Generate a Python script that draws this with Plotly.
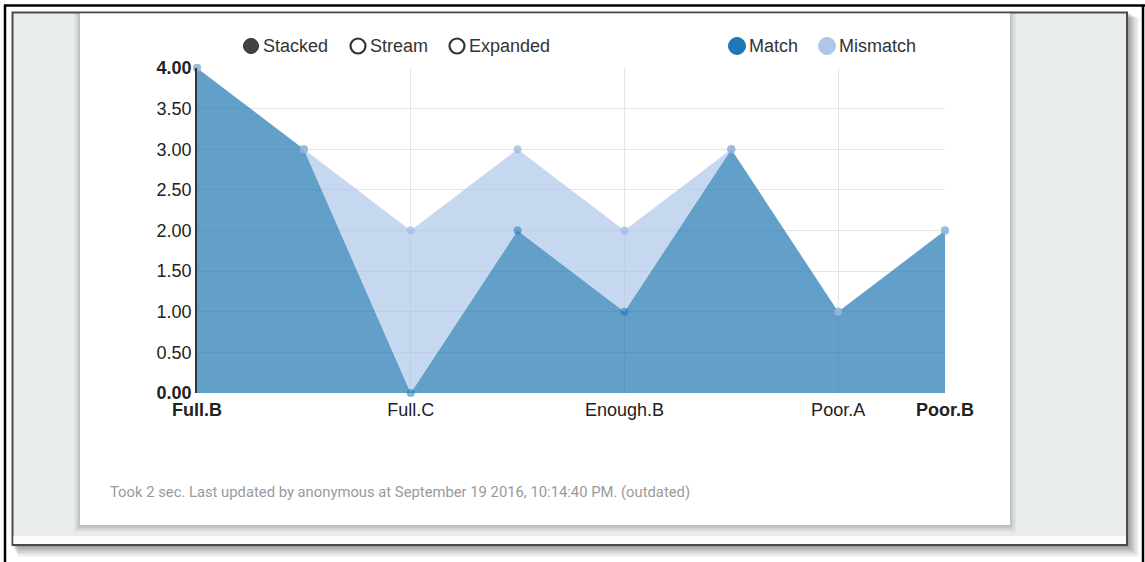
import plotly.graph_objects as go

# ---- data ----
positions = [0, 1, 2, 3, 4, 5, 6, 7]
tick_positions = [0, 2, 4, 6]
tick_labels = ["<b>Full.B</b>", "Full.C", "Enough.B", "Poor.A"]
end_tick_position = [7]
end_tick_label = ["<b>Poor.B</b>"]
match = [4, 3, 0, 2, 1, 3, 1, 2]
mismatch = [0, 0, 2, 1, 1, 0, 0, 0]
y_ticks = [0, 0.5, 1, 1.5, 2, 2.5, 3, 3.5, 4]
y_labels = ["<b>0.00</b>", "0.50", "1.00", "1.50", "2.00", "2.50", "3.00", "3.50", "<b>4.00</b>"]

W, H = 1145, 562


def px(x):
    return x / W


def py(y):
    return 1 - y / H


FONT = "Liberation Sans, Arial, sans-serif"

fig = go.Figure()
fig.add_trace(go.Scatter(
    x=positions, y=match, name="Match", stackgroup="one", mode="lines+markers",
    line=dict(width=0, color="#1f77b4"), fillcolor="rgba(31,119,180,0.7)",
    marker=dict(size=8, color="rgba(31,119,180,0.55)"), cliponaxis=False,
))
fig.add_trace(go.Scatter(
    x=positions, y=mismatch, name="Mismatch", stackgroup="one", mode="lines+markers",
    line=dict(width=0, color="#aec7e8"), fillcolor="rgba(174,199,232,0.7)",
    marker=dict(size=8, color="rgba(160,190,228,0.8)"), cliponaxis=False,
))

shapes = []
# outer black frame
shapes.append(dict(type="line", xref="paper", yref="paper", x0=px(4), x1=px(1145), y0=py(5.5), y1=py(5.5),
                   line=dict(color="#000", width=2.5), layer="below"))
shapes.append(dict(type="line", xref="paper", yref="paper", x0=px(5), x1=px(5), y0=py(5), y1=py(562),
                   line=dict(color="#000", width=2.5), layer="below"))
shapes.append(dict(type="line", xref="paper", yref="paper", x0=px(1143), x1=px(1143), y0=py(5), y1=py(562),
                   line=dict(color="#000", width=2.5), layer="below"))
# inner frame shadow
for i, a in enumerate([0.05, 0.06, 0.07, 0.08, 0.09, 0.1]):
    off = 12 - i * 2
    shapes.append(dict(type="rect", xref="paper", yref="paper",
                       x0=px(12 + off / 2), x1=px(1127 + off), y0=py(12 + off / 2), y1=py(545 + off),
                       fillcolor=f"rgba(0,0,0,{a})", line=dict(width=0), layer="below"))
# inner frame
shapes.append(dict(type="rect", xref="paper", yref="paper", x0=px(12.5), x1=px(1127), y0=py(12.5), y1=py(545),
                   fillcolor="#e9eced", line=dict(color="#4a4a4a", width=2), layer="below"))
shapes.append(dict(type="rect", xref="paper", yref="paper", x0=px(13.5), x1=px(1126), y0=py(536), y1=py(544),
                   fillcolor="#fbfbfb", line=dict(width=0), layer="below"))
# card shadow
for i, a in enumerate([0.03, 0.04, 0.05, 0.07]):
    off = 6 - i * 1.5
    shapes.append(dict(type="rect", xref="paper", yref="paper",
                       x0=px(80 - off), x1=px(1010 + off), y0=py(13.5), y1=py(525 + off + 1),
                       fillcolor=f"rgba(0,0,0,{a})", line=dict(width=0), layer="below"))
# card
shapes.append(dict(type="rect", xref="paper", yref="paper", x0=px(80), x1=px(1010), y0=py(13.5), y1=py(525),
                   fillcolor="#ffffff", line=dict(width=0), layer="below"))

annotations = []
# controls legend
ctrl = [("Stacked", 251, True), ("Stream", 358, False), ("Expanded", 457, False)]
for label, cx, filled in ctrl:
    r = 7.5
    shapes.append(dict(type="circle", xref="paper", yref="paper",
                       x0=px(cx - r), x1=px(cx + r), y0=py(46 - r), y1=py(46 + r),
                       fillcolor="#444" if filled else "rgba(0,0,0,0)",
                       line=dict(color="#333", width=2.2 if not filled else 1)))
    annotations.append(dict(x=px(cx + 10), y=py(46), xref="paper", yref="paper", text=label,
                            showarrow=False, xanchor="left", yanchor="middle",
                            font=dict(family=FONT, size=18, color="#333")))
# series legend
leg = [("Match", 737, "#1f77b4"), ("Mismatch", 827, "#aec7e8")]
for label, cx, col in leg:
    r = 8.5
    shapes.append(dict(type="circle", xref="paper", yref="paper",
                       x0=px(cx - r), x1=px(cx + r), y0=py(46 - r), y1=py(46 + r),
                       fillcolor=col, line=dict(color=col, width=1)))
    annotations.append(dict(x=px(cx + 10), y=py(46), xref="paper", yref="paper", text=label,
                            showarrow=False, xanchor="left", yanchor="middle",
                            font=dict(family=FONT, size=18, color="#333")))

annotations.append(dict(x=px(108), y=py(492), xref="paper", yref="paper",
                        text="Took 2 sec. Last updated by anonymous at September 19 2016, 10:14:40 PM. (outdated)",
                        showarrow=False, xanchor="left", yanchor="middle",
                        font=dict(family="Roboto, sans-serif", size=14.8, color="#9a9a9a")))

fig.update_layout(
    template="none",
    width=W, height=H, autosize=False,
    margin=dict(l=0, r=0, t=0, b=0, pad=0, autoexpand=False),
    paper_bgcolor="#ffffff", plot_bgcolor="rgba(0,0,0,0)",
    showlegend=False, shapes=shapes, annotations=annotations,
    font=dict(family=FONT, size=18, color="#222"),
    xaxis=dict(domain=[px(197), px(945)], range=[0, 7], tickvals=tick_positions, ticktext=tick_labels,
               showgrid=True, gridcolor="#e5e5e5", gridwidth=1, zeroline=False, showline=False,
               ticks="", automargin=False, ticklabelstandoff=4, tickfont=dict(size=18, color="#222")),
    xaxis2=dict(domain=[px(197), px(945)], range=[0, 7], overlaying="x", anchor="y", side="bottom",
                tickvals=end_tick_position, ticktext=end_tick_label, showgrid=False, zeroline=False,
                showline=False, ticks="", automargin=False, ticklabelstandoff=4,
                tickfont=dict(size=18, color="#222")),
    yaxis=dict(domain=[py(393), py(68)], range=[0, 4], tickvals=y_ticks, ticktext=y_labels,
               showgrid=True, gridcolor="#e5e5e5", gridwidth=1, zeroline=False,
               showline=True, linecolor="#333", linewidth=1.5, ticks="", automargin=False,
               tickfont=dict(size=18, color="#222")),
)
# invisible trace to activate xaxis2
fig.add_trace(go.Scatter(x=[7], y=[0], xaxis="x2", yaxis="y", mode="markers",
                         marker=dict(size=1, opacity=0), hoverinfo="skip", showlegend=False))

fig.write_html("out.html", config={"displayModeBar": False},
               post_script="document.body.style.margin='0px';document.body.style.overflow='hidden';")
